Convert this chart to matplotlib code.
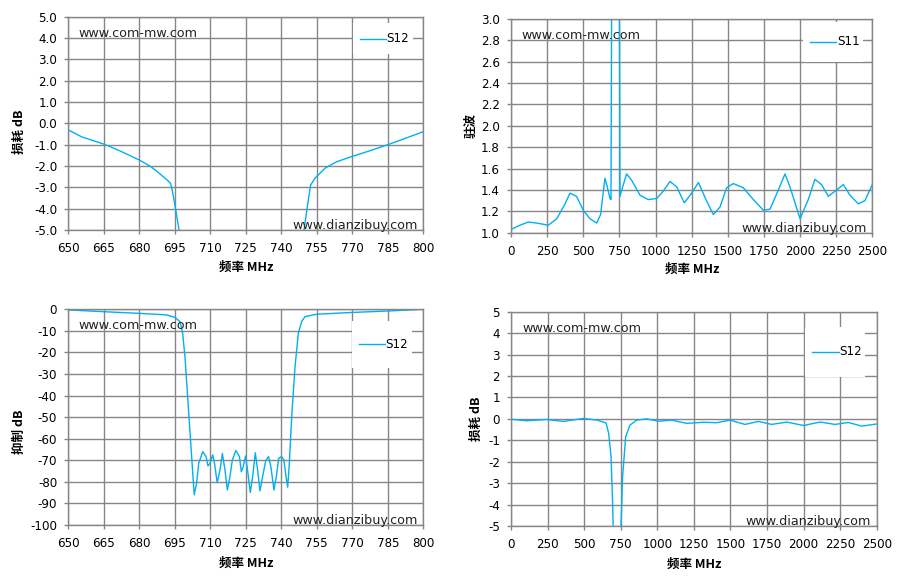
import matplotlib
matplotlib.use("Agg")
import matplotlib.pyplot as plt
import numpy as np

# ---------------- data ----------------
# Top-left: insertion loss (S12) 650-800 MHz
tl_freq_lo = [650, 655.6, 665.2, 672, 680, 684.5, 688, 690.1, 692, 693.2, 693.9, 694.6, 695.4, 696.8, 698]
tl_loss_lo = [-0.31, -0.63, -0.98, -1.3, -1.72, -2.0, -2.3, -2.5, -2.68, -2.81, -3.13, -3.55, -4.06, -5.0, -6.0]
tl_freq_hi = [748.5, 749.6, 751.0, 752.4, 754.2, 756.5, 758.5, 763.4, 769.7, 777, 785, 792, 800]
tl_loss_hi = [-6.0, -5.0, -3.9, -2.89, -2.58, -2.32, -2.1, -1.8, -1.56, -1.3, -1.0, -0.72, -0.39]

# Top-right: VSWR (S11) 0-2500 MHz
tr_freq = [0, 62, 120, 178, 258, 316, 374, 408, 454, 500, 547, 593, 620, 650, 666, 685, 692, 697,
           746, 750, 754, 773, 800, 835, 893, 950, 1008, 1054, 1100, 1146, 1199, 1250, 1297, 1349,
           1400, 1446, 1492, 1538, 1608, 1677, 1746, 1792, 1850, 1896, 1930, 2000, 2057, 2103, 2149,
           2196, 2253, 2300, 2346, 2403, 2449, 2500]
tr_vswr = [1.03, 1.07, 1.10, 1.09, 1.07, 1.13, 1.27, 1.37, 1.34, 1.21, 1.13, 1.09, 1.17, 1.51, 1.43, 1.32,
           1.31, 3.5, 3.5, 3.5, 1.34, 1.43, 1.55, 1.49, 1.35, 1.31, 1.32, 1.39, 1.48, 1.43, 1.28, 1.37,
           1.47, 1.31, 1.17, 1.24, 1.42, 1.46, 1.42, 1.31, 1.21, 1.22, 1.40, 1.55, 1.43, 1.13, 1.31,
           1.50, 1.45, 1.34, 1.40, 1.45, 1.35, 1.27, 1.30, 1.45]

# Bottom-left: rejection (S12) 650-800 MHz
bl_freq = [650, 664.8, 680.3, 691.5, 695, 697.2, 698.3, 699.3, 700.7, 702.1, 703.2, 704.2, 705.1,
           706.8, 708.2, 709.0, 709.9, 711.0, 711.8, 712.9, 714.1, 715.1, 716.2, 717.2, 718.3, 719.3,
           720.8, 722.3, 723.1, 723.9, 724.9, 725.9, 726.9, 727.9, 729.0, 730.0, 731.0, 732.1, 733.4,
           734.6, 735.6, 736.9, 737.9, 738.9, 740.1, 741.1, 742.0, 742.7, 743.4, 744.4, 745.8, 747.2,
           748.6, 750.0, 754.9, 769.0, 784.9, 800]
bl_rej = [-0.3, -1.1, -1.9, -2.6, -3.7, -5.7, -11, -22, -45, -68, -86, -80.7, -71.4,
          -66, -68.3, -72.6, -71.4, -67.5, -71.4, -80.4, -74.5, -66.8, -74.5, -83.8, -77.6, -69.9,
          -65.5, -68.3, -75.3, -73, -68, -76, -84.9, -77.6, -66.5, -74.5, -84.2, -77.6, -70.2,
          -68.3, -73, -83.8, -77.6, -69, -68.3, -69.9, -77.6, -82.5, -71.4, -49.8, -26.6, -11.1,
          -5.7, -3.4, -2.3, -1.5, -0.8, 0.0]

# Bottom-right: insertion loss (S12) 0-2500 MHz
br_freq = [0, 107, 244, 358, 495, 588, 650, 668, 684, 695, 705, 745, 752, 763, 784, 814, 859, 928,
           1007, 1098, 1201, 1315, 1406, 1497, 1600, 1691, 1782, 1885, 2000, 2113, 2215, 2306, 2398, 2500]
br_loss = [-0.02, -0.09, -0.03, -0.12, 0.02, -0.06, -0.19, -0.68, -1.77, -4.0, -7.0, -7.0, -5.0, -2.7,
           -0.83, -0.29, -0.06, 0.0, -0.11, -0.06, -0.21, -0.16, -0.18, -0.06, -0.26, -0.12, -0.26,
           -0.15, -0.31, -0.15, -0.26, -0.17, -0.34, -0.24]

x_ticks_narrow = [650, 665, 680, 695, 710, 725, 740, 755, 770, 785, 800]
x_ticks_wide = [0, 250, 500, 750, 1000, 1250, 1500, 1750, 2000, 2250, 2500]

# ---------------- style ----------------
LINE = "#00B0F0"
GRID = "#868686"
CJK = ["Noto Sans CJK SC", "DejaVu Sans"]
TICKFS = 8.6
LABELFS = 9

fig = plt.figure(figsize=(9.02, 5.84), dpi=100)
fig.patch.set_facecolor("white")


def setup(ax, xlim, ylim, xticks, yticks, yfmt, ylabel, legend_label, leg_box, ylab_xy, xlab_xy):
    ax.set_xlim(*xlim)
    ax.set_ylim(*ylim)
    ax.set_xticks(xticks)
    ax.set_yticks(yticks)
    ax.set_xticklabels([str(t) for t in xticks])
    ax.set_yticklabels([yfmt(t) for t in yticks])
    ax.grid(True, color=GRID, linewidth=1.0)
    ax.set_axisbelow(True)
    for s in ax.spines.values():
        s.set_color(GRID)
        s.set_linewidth(1.0)
    ax.tick_params(axis="both", colors=GRID, length=3, width=1.0, labelsize=TICKFS,
                   labelcolor="black")
    ax.tick_params(axis="x", pad=5.5)
    ax.tick_params(axis="y", pad=5.0)
    for lab in ax.get_xticklabels() + ax.get_yticklabels():
        lab.set_family("DejaVu Sans")
    ax.set_xlabel("频率 MHz", family=CJK, fontweight="bold", fontsize=LABELFS)
    ax.set_ylabel(ylabel, family=CJK, fontweight="bold", fontsize=LABELFS)
    ax.xaxis.set_label_coords(*xlab_xy)
    ax.yaxis.set_label_coords(*ylab_xy)
    ax.text(0.03, 0.923, "www.com-mw.com", transform=ax.transAxes, fontsize=9.2,
            family="DejaVu Sans", color="#222222", va="center", ha="left", zorder=5)
    ax.text(0.985, 0.02, "www.dianzibuy.com", transform=ax.transAxes, fontsize=9.2,
            family="DejaVu Sans", color="#222222", va="center", ha="right", zorder=5)
    # legend box (white, no edge) hiding grid
    bx, by, bw, bh = leg_box
    ax.add_patch(plt.Rectangle((bx, by), bw, bh, transform=ax.transAxes, facecolor="white",
                               edgecolor="none", zorder=3))
    ly = by + bh / 2
    ax.plot([bx + 0.02, bx + 0.092], [ly, ly], transform=ax.transAxes, color=LINE, lw=1.0, zorder=4)
    ax.text(bx + 0.094, ly, legend_label, transform=ax.transAxes, fontsize=TICKFS,
            family="DejaVu Sans", va="center", ha="left", zorder=4)


# Top-left
ax1 = fig.add_axes([68.3 / 902, 1 - 230 / 584, 355 / 902, 213.3 / 584])
ax1.plot(tl_freq_lo, tl_loss_lo, color=LINE, lw=1.0, zorder=2)
ax1.plot(tl_freq_hi, tl_loss_hi, color=LINE, lw=1.0, zorder=2)
setup(ax1, (650, 800), (-5, 5), x_ticks_narrow, np.arange(-5, 5.1, 1.0),
      lambda t: f"{t:.1f}", "损耗 dB", "S12", (0.802, 0.825, 0.169, 0.145),
      (-0.119, 0.462), (0.502, -0.145))

# Top-right
ax2 = fig.add_axes([511 / 902, 1 - 232.7 / 584, 361.3 / 902, 213.7 / 584])
ax2.plot(tr_freq, tr_vswr, color=LINE, lw=1.0, zorder=2)
setup(ax2, (0, 2500), (1.0, 3.0), x_ticks_wide, np.arange(1.0, 3.01, 0.2),
      lambda t: f"{t:.1f}", "驻波", "S11", (0.808, 0.799, 0.165, 0.187),
      (-0.0914, 0.50), (0.501, -0.142))

# Bottom-left
ax3 = fig.add_axes([68.3 / 902, 1 - 525 / 584, 355 / 902, 215.7 / 584])
ax3.plot(bl_freq, bl_rej, color=LINE, lw=1.0, zorder=2)
setup(ax3, (650, 800), (-100, 0), x_ticks_narrow, np.arange(-100, 1, 10),
      lambda t: f"{int(round(t))}", "抑制 dB", "S12", (0.799, 0.728, 0.169, 0.218),
      (-0.12, 0.431), (0.502, -0.148))

# Bottom-right
ax4 = fig.add_axes([511 / 902, 1 - 526 / 584, 365.7 / 902, 214.3 / 584])
ax4.plot(br_freq, br_loss, color=LINE, lw=1.0, zorder=2)
setup(ax4, (0, 2500), (-5, 5), x_ticks_wide, np.arange(-5, 5.1, 1),
      lambda t: f"{int(round(t))}", "损耗 dB", "S12", (0.804, 0.697, 0.164, 0.233),
      (-0.076, 0.499), (0.502, -0.149))

fig.savefig("out.png", dpi=100, facecolor="white")
